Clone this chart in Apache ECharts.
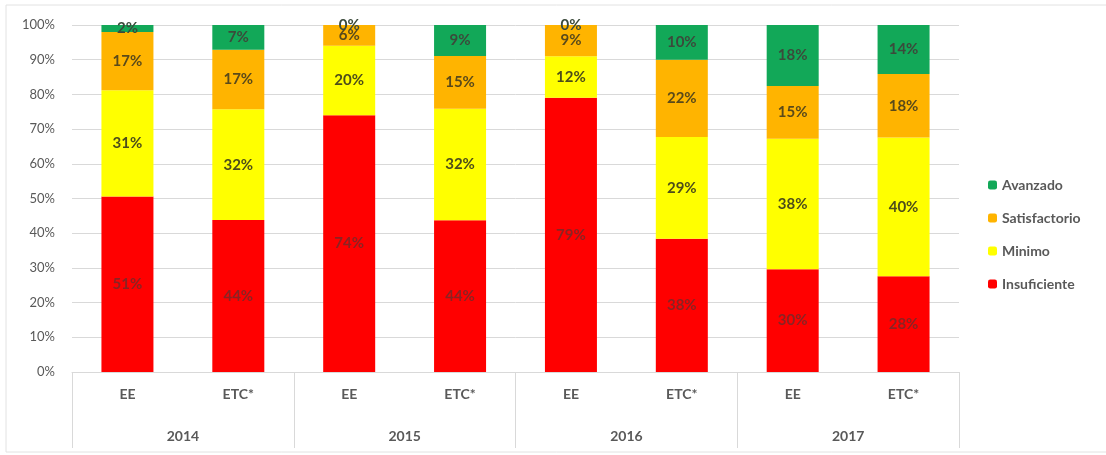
<!DOCTYPE html>
<html>
<head>
<meta charset="utf-8">
<style>
  html, body { margin: 0; padding: 0; background: #fff; }
  #chart { width: 1106px; height: 455px; }
</style>
<script src="https://cdn.jsdelivr.net/npm/echarts@6/dist/echarts.min.js"></script>
</head>
<body>
<div id="chart"></div>
<script>
// categorias (tipo de escuela) y años
const groups = ['EE', 'ETC*', 'EE', 'ETC*', 'EE', 'ETC*', 'EE', 'ETC*']
const years = ['2014', '2015', '2016', '2017']
const yTicks = [0, 10, 20, 30, 40, 50, 60, 70, 80, 90, 100]

// porcentajes por nivel
const insuficiente = [50.6, 43.8, 74.0, 43.7, 79.0, 38.4, 29.6, 27.6]
const minimo = [30.6, 31.9, 20.0, 32.2, 12.0, 29.3, 37.6, 40.0]
const satisfactorio = [16.8, 17.2, 6.0, 15.2, 9.0, 22.3, 15.2, 18.3]
const avanzado = [2.0, 7.1, 0.0, 8.9, 0.0, 10.0, 17.6, 14.1]

const font = 'Lato, "Open Sans", sans-serif'
const chart = echarts.init(document.getElementById('chart'))

const mkSeries = (name, data, color, labelColor) => ({
  name,
  type: 'bar',
  stack: 'total',
  data,
  barWidth: 52,
  itemStyle: { color },
  label: {
    show: true,
    position: 'inside',
    formatter: p => Math.round(p.value) + '%',
    color: labelColor,
    fontFamily: font,
    fontWeight: 'bold',
    fontSize: 15
  }
})

const option = {
  animation: false,
  backgroundColor: '#fff',
  graphic: [{
    type: 'rect',
    shape: { x: 6, y: 5, width: 1110, height: 447 },
    style: { fill: 'none', stroke: '#e2e2e2', lineWidth: 1 },
    silent: true
  }],
  grid: { left: 72, right: 147, top: 25, bottom: 83 },
  legend: {
    orient: 'vertical',
    left: 983,
    top: 173,
    itemWidth: 9,
    itemHeight: 9,
    itemGap: 19,
    data: ['Avanzado', 'Satisfactorio', 'Minimo', 'Insuficiente'],
    textStyle: { color: '#595959', fontFamily: font, fontSize: 14, fontWeight: 'bold' }
  },
  xAxis: [{
    type: 'category',
    data: groups,
    axisLine: { lineStyle: { color: '#d9d9d9' } },
    axisTick: { show: false },
    axisLabel: { color: '#595959', fontFamily: font, fontWeight: 'bold', fontSize: 14, margin: 15 }
  }, {
    type: 'category',
    data: years,
    position: 'bottom',
    axisLine: { show: false },
    axisTick: { show: true, length: 76, lineStyle: { color: '#d9d9d9' } },
    axisLabel: { color: '#595959', fontFamily: font, fontWeight: 'bold', fontSize: 14, margin: 57 }
  }],
  yAxis: {
    type: 'value',
    min: 0,
    max: 100,
    interval: 10,
    axisLine: { show: false },
    axisTick: { show: false },
    splitLine: { lineStyle: { color: '#d9d9d9' } },
    axisLabel: {
      color: '#595959',
      fontFamily: font,
      fontSize: 13,
      margin: 17,
      formatter: v => (yTicks.includes(v) ? v + '%' : '')
    }
  },
  series: [
    mkSeries('Insuficiente', insuficiente, '#FF0000', '#8a2323'),
    mkSeries('Minimo', minimo, '#FFFF00', '#4d4d1a'),
    mkSeries('Satisfactorio', satisfactorio, '#FFB400', '#5a4a1a'),
    mkSeries('Avanzado', avanzado, '#12A858', '#3b4a3b')
  ]
}

chart.setOption(option)
</script>
</body>
</html>
